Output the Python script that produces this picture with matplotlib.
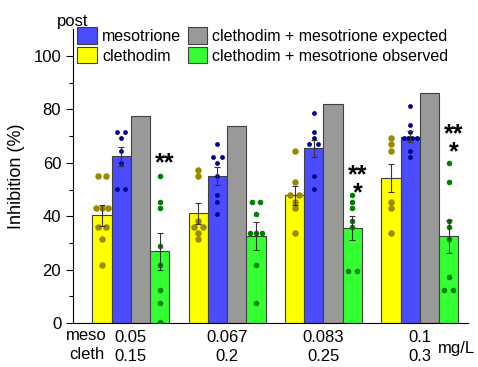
import numpy as np
import matplotlib
matplotlib.use('Agg')
import matplotlib.pyplot as plt
from matplotlib.patches import Patch

plt.rcParams['font.family'] = ['Liberation Sans', 'DejaVu Sans']

# Dosis (mg/L)
meso_doses = ['0.05', '0.067', '0.083', '0.1']
cleth_doses = ['0.15', '0.2', '0.25', '0.3']

# Médias das barras (%)
clethodim = [40.3, 41.1, 47.8, 54.3]
mesotrione = [62.4, 55.0, 65.5, 69.8]
expected = [77.6, 73.7, 82.0, 86.3]
observed = [26.9, 32.7, 35.7, 32.5]

# Erro padrão
clethodim_se = [3.9, 4.0, 3.5, 5.2]
mesotrione_se = [3.5, 3.3, 3.2, 2.0]
observed_se = [7.0, 5.2, 4.5, 6.2]

# Repetições individuais
clethodim_pts = [
    [54.9, 54.9, 43.2, 43.2, 43.2, 36.1, 36.1, 31.3, 21.7],
    [57.3, 54.9, 38.3, 36.1, 36.1, 33.6, 31.3],
    [64.4, 52.7, 47.8, 47.8, 45.4, 43.1, 33.6],
    [69.2, 66.9, 64.4, 45.4, 43.1, 33.6],
]
mesotrione_pts = [
    [71.7, 71.7, 69.2, 64.5, 59.8, 50.2, 50.2],
    [66.9, 62.0, 62.0, 59.8, 54.9, 47.8, 45.4, 40.7],
    [78.8, 71.7, 69.2, 66.9, 66.9, 55.1, 50.2],
    [81.2, 74.0, 71.7, 69.2, 69.2, 69.2, 69.2, 64.4, 62.0],
]
observed_pts = [
    [54.9, 45.4, 43.2, 29.0, 21.7, 12.4, 7.6, 0.5],
    [45.4, 45.4, 40.7, 33.6, 33.6, 33.6, 21.7, 7.6],
    [47.8, 45.4, 43.1, 38.3, 36.1, 19.4, 19.4],
    [59.8, 52.7, 38.3, 36.1, 31.3, 17.1, 12.4, 12.4],
]

# Significância: (grupo, texto, altura da última linha)
stars = [(0, '**', 62.5), (2, '**\n*', 51.3), (3, '**\n*', 66.7)]

centers = np.arange(4) * 5.0
w = 1.0


def jitter(vals, tol=1.6):
    vals = np.asarray(vals)
    order = np.argsort(vals)
    offs = np.zeros(len(vals))
    groups = [[order[0]]]
    for i in order[1:]:
        if vals[i] - vals[groups[-1][-1]] < tol:
            groups[-1].append(i)
        else:
            groups.append([i])
    for g in groups:
        n = len(g)
        step = min(0.5, 0.9 / n)
        for k, i in enumerate(g):
            offs[i] = (k - (n - 1) / 2) * step
    return offs


fig = plt.figure(figsize=(4.78, 3.67), dpi=100)
ax = fig.add_axes([0.1527, 0.1199, 0.8263, 0.8001])

series = [
    (clethodim, clethodim_se, clethodim_pts, '#ffff00', '#9a8a00', 22, -1.5),
    (mesotrione, mesotrione_se, mesotrione_pts, '#4b4bff', '#00008b', 12, -0.5),
    (expected, None, None, '#999999', None, 0, 0.5),
    (observed, observed_se, observed_pts, '#33ff33', '#008000', 16, 1.5),
]

for means, se, pts, color, dcol, s, off in series:
    x = centers + off
    ax.bar(x, means, width=w, color=color, edgecolor='#404040', linewidth=0.8, zorder=2)
    if pts is not None:
        for xi, p in zip(x, pts):
            ax.scatter(xi + jitter(p) * w, p, s=s, color=dcol, linewidths=0, zorder=3)
    if se is not None:
        ax.errorbar(x, means, yerr=se, fmt='none', ecolor='#333333', elinewidth=0.8,
                    capsize=2.5, capthick=0.8, zorder=4)

star_fs = 18
for g, st, y in stars:
    ax.annotate(st, (centers[g] + 1.78, y), xytext=(0, -0.56 * star_fs),
                textcoords='offset points', ha='center', va='baseline',
                fontsize=star_fs, fontweight='bold', linespacing=0.68)

ax.set_xlim(-3, 17.5)
ax.set_ylim(0, 110)
ax.set_yticks(np.arange(0, 101, 20))
ax.set_yticks(np.arange(10, 110, 20), minor=True)
ax.tick_params(axis='y', which='major', length=5, width=0.8, labelsize=12, direction='out')
ax.tick_params(axis='y', which='minor', length=3, width=0.8, direction='out')
ax.set_xticks(centers, [m + '\n' + c for m, c in zip(meso_doses, cleth_doses)])
ax.tick_params(axis='x', length=0, labelsize=12, pad=5)
for lab in ax.get_xticklabels():
    lab.set_linespacing(1.35)
ax.spines['top'].set_visible(False)
ax.spines['right'].set_visible(False)
ax.spines['left'].set_linewidth(0.8)
ax.spines['bottom'].set_linewidth(0.8)
ax.set_ylabel('Inhibition (%)', fontsize=13, labelpad=6)

ax.text(-2.3, -0.017, 'meso\ncleth', transform=ax.get_xaxis_transform(), ha='center',
        va='top', fontsize=12, linespacing=1.35)
ax.text(16.9, -0.086, 'mg/L', transform=ax.get_xaxis_transform(), ha='center',
        va='center', fontsize=12)
ax.text(-3, 1.0, 'post', transform=ax.get_xaxis_transform(), ha='center',
        va='bottom', fontsize=12)

handles = [
    Patch(facecolor='#4b4bff', edgecolor='#404040', linewidth=0.8),
    Patch(facecolor='#ffff00', edgecolor='#404040', linewidth=0.8),
    Patch(facecolor='#999999', edgecolor='#404040', linewidth=0.8),
    Patch(facecolor='#33ff33', edgecolor='#404040', linewidth=0.8),
]
labels = ['mesotrione', 'clethodim', 'clethodim + mesotrione expected',
          'clethodim + mesotrione observed']
fig.legend(handles, labels, ncol=2, loc='upper left', bbox_to_anchor=(0.162, 0.926),
           frameon=False, fontsize=11.5, handlelength=1.2, handleheight=1.2,
           handletextpad=0.35, columnspacing=0.4, labelspacing=0.2, borderpad=0,
           borderaxespad=0)

fig.savefig('out.png', dpi=100)
